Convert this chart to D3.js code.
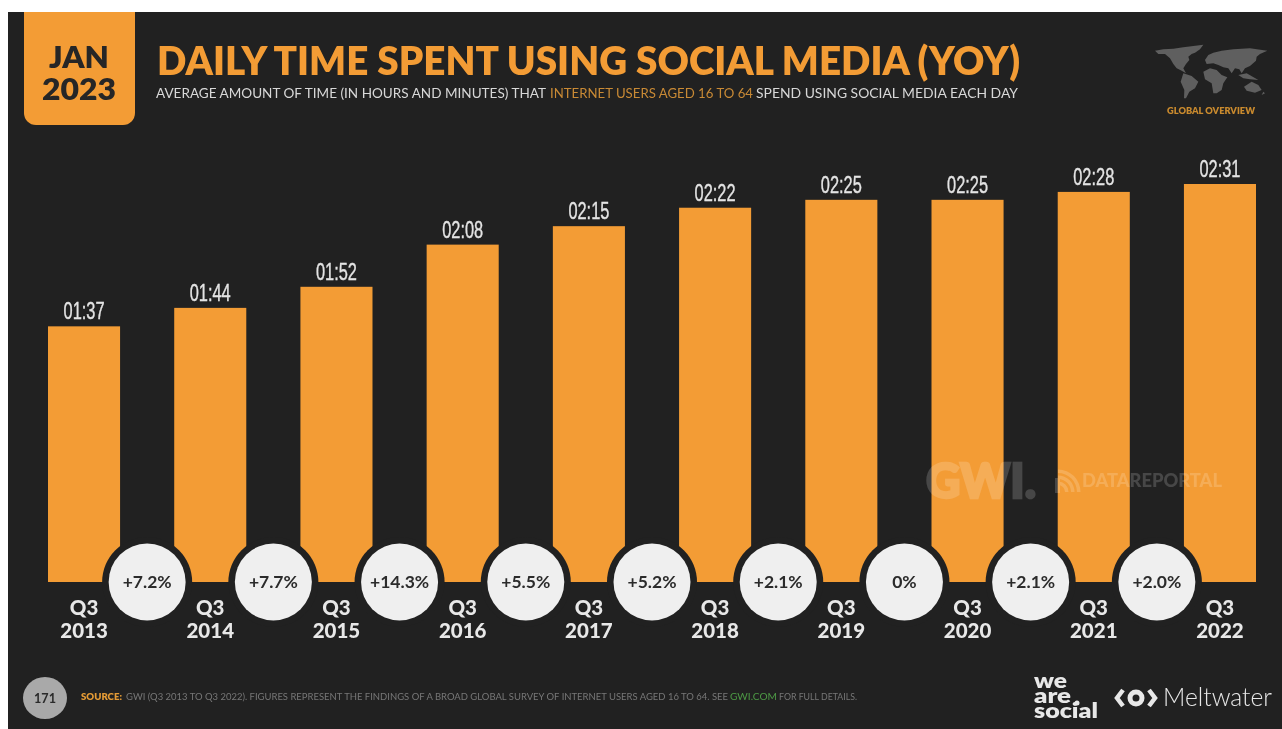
<!DOCTYPE html>
<html>
<head>
<meta charset="utf-8">
<style>
html, body { margin: 0; padding: 0; background: #fff; }
svg { display: block; filter: blur(0.4px); }
.axis path { display: none; }
.axis line { display: none; }
</style>
</head>
<body>
<svg width="1282" height="729"></svg>
<script src="https://d3js.org/d3.v7.min.js"></script>
<script>
// values are minutes per day
var quarters = ["Q3 2013", "Q3 2014", "Q3 2015", "Q3 2016", "Q3 2017", "Q3 2018", "Q3 2019", "Q3 2020", "Q3 2021", "Q3 2022"];
var minutes = [97, 104, 112, 128, 135, 142, 145, 145, 148, 151];
var changes = ["+7.2%", "+7.7%", "+14.3%", "+5.5%", "+5.2%", "+2.1%", "0%", "+2.1%", "+2.0%"];

var orange = "#f39c35", dark = "#212121", head = "Lato, sans-serif";
var svg = d3.select("svg");

function label(x, y, str, size, weight, fill, len, family) {
  var t = svg.append("text")
      .attr("x", x).attr("y", y)
      .attr("font-family", family || head)
      .attr("font-size", size)
      .attr("font-weight", weight)
      .attr("fill", fill)
      .text(str);
  if (len) t.attr("textLength", len).attr("lengthAdjust", "spacingAndGlyphs");
  return t;
}

svg.append("rect").attr("x", 8).attr("y", 12).attr("width", 1274).attr("height", 717).attr("fill", dark);

// chart
var x = d3.scaleBand().domain(quarters).range([48, 1256]).paddingInner(0.429).paddingOuter(0);
var y = d3.scaleLinear().domain([0, 151]).range([582, 184]);

function hhmm(m) {
  return d3.format("02d")(Math.floor(m / 60)) + ":" + d3.format("02d")(m % 60);
}

svg.selectAll(".bar")
  .data(quarters)
  .enter().append("rect")
    .attr("class", "bar")
    .attr("x", function(d) { return x(d); })
    .attr("y", function(d, i) { return y(minutes[i]); })
    .attr("width", x.bandwidth())
    .attr("height", function(d, i) { return y(0) - y(minutes[i]); })
    .attr("fill", orange);

svg.selectAll(".value")
  .data(quarters)
  .enter().append("text")
    .attr("class", "value")
    .attr("x", function(d) { return x(d) + x.bandwidth() / 2; })
    .attr("y", function(d, i) { return y(minutes[i]) - 7; })
    .attr("text-anchor", "middle")
    .attr("font-family", "'Liberation Sans Narrow', sans-serif")
    .attr("font-size", 23)
    .attr("fill", "#e4e4e4")
    .attr("stroke", "#e4e4e4")
    .attr("stroke-width", 0.35)
    .attr("textLength", 41)
    .attr("lengthAdjust", "spacingAndGlyphs")
    .text(function(d, i) { return hhmm(minutes[i]); });

var axis = svg.append("g")
    .attr("class", "axis")
    .attr("transform", "translate(0,582)")
    .call(d3.axisBottom(x).tickSize(0).tickFormat(""));

axis.selectAll(".tick text")
    .attr("y", 0).attr("dy", 0)
    .attr("font-family", head)
    .attr("font-size", 20.5)
    .attr("font-weight", 900)
    .attr("fill", "#e8e8e8")
    .each(function(d) {
      var parts = d.split(" ");
      d3.select(this).append("tspan").attr("x", 0).attr("y", 33).text(parts[0]);
      d3.select(this).append("tspan").attr("x", 0).attr("y", 56).text(parts[1]);
    });

// change bubbles sit halfway between two bars
var bubbles = svg.selectAll(".bubble")
  .data(changes)
  .enter().append("g")
    .attr("class", "bubble")
    .attr("transform", function(d, i) {
      return "translate(" + ((x(quarters[i]) + x(quarters[i + 1]) + x.bandwidth()) / 2) + "," + y(0) + ")";
    });
bubbles.append("circle").attr("r", 45).attr("fill", dark);
bubbles.append("circle").attr("r", 38.5).attr("fill", "#efefef");
bubbles.append("text")
    .attr("text-anchor", "middle")
    .attr("dy", "0.36em")
    .attr("font-family", head)
    .attr("font-size", 17.5)
    .attr("font-weight", 700)
    .attr("fill", "#2b2b2b")
    .text(function(d) { return d; });

// watermark
var wm = svg.append("g").attr("opacity", 0.17).attr("fill", "#fff");
wm.append("text").attr("x", 926).attr("y", 498).attr("font-family", head).attr("font-size", 47).attr("font-weight", 900)
    .attr("stroke", "#fff").attr("stroke-width", 2.5)
    .attr("textLength", 110).attr("lengthAdjust", "spacingAndGlyphs").text("GWI.");
wm.append("text").attr("x", 1082).attr("y", 487).attr("font-family", head).attr("font-size", 19).attr("font-weight", 900)
    .attr("textLength", 140).attr("lengthAdjust", "spacingAndGlyphs").text("DATAREPORTAL");
[7, 13, 19].forEach(function(r) {
  wm.append("path")
      .attr("d", d3.arc()({innerRadius: r, outerRadius: r + 3.5, startAngle: 0, endAngle: Math.PI / 2}))
      .attr("transform", "translate(1058,492)");
});
wm.append("rect").attr("x", 1055).attr("y", 478).attr("width", 5).attr("height", 15);

// header
svg.append("path")
    .attr("d", "M24,12H135V113a12,12 0 0 1 -12,12H36a12,12 0 0 1 -12,-12Z")
    .attr("fill", orange);
label(79, 68, "JAN", 30, 800, "#262626", 60).attr("text-anchor", "middle");
label(79, 100, "2023", 31, 800, "#262626", 74).attr("text-anchor", "middle");

label(157, 75, "DAILY TIME SPENT USING SOCIAL MEDIA (YOY)", 40, 800, orange, 863);
label(156, 98, "AVERAGE AMOUNT OF TIME (IN HOURS AND MINUTES) THAT", 13, 400, "#d8d8d8", 390);
label(550, 98, "INTERNET USERS AGED 16 TO 64", 13, 400, "#c98a35", 203);
label(756, 98, "SPEND USING SOCIAL MEDIA EACH DAY", 13, 400, "#d8d8d8", 262);

// simplified world map, traced in a 3x box
var continents = [
  "M15,32L40,28L70,26L100,22L130,18L160,14L150,28L135,38L125,42L115,50L118,60L108,72L100,85L108,100L95,92L80,85L70,72L60,55L45,42L25,42Z",
  "M100,100L125,108L145,125L135,145L118,155L108,175L102,175L103,150L92,125Z",
  "M160,95L180,85L200,90L215,105L232,112L220,130L215,150L200,160L190,160L185,130L165,118Z",
  "M165,60L175,45L190,38L215,32L250,28L300,25L352,32L330,42L320,50L318,62L300,78L285,85L275,100L268,88L255,85L245,100L235,85L220,82L205,75L190,70L170,72Z",
  "M265,105L290,100L325,120L300,118L280,115Z",
  "M282,140L305,125L325,135L335,150L315,158L290,152Z",
  "M340,155L345,160L335,165Z"
];
svg.append("g")
    .attr("transform", "translate(1150,40) scale(0.3333)")
    .selectAll("path")
  .data(continents)
  .enter().append("path")
    .attr("d", function(d) { return d; })
    .attr("fill", "#5f5f5f");
label(1167, 114, "GLOBAL OVERVIEW", 9, 800, "#c98a2e", 88);

// footer
svg.append("ellipse").attr("cx", 45).attr("cy", 698).attr("rx", 22).attr("ry", 21).attr("fill", "#a9a9a9");
label(45, 703, "171", 14, 700, "#2a2a2a", 22).attr("text-anchor", "middle");
label(81, 700, "SOURCE:", 9, 800, "#e39a35", 41);
label(126, 700, "GWI (Q3 2013 TO Q3 2022). FIGURES REPRESENT THE FINDINGS OF A BROAD GLOBAL SURVEY OF INTERNET USERS AGED 16 TO 64. SEE", 9, 400, "#777", 602);
label(730, 700, "GWI.COM", 9, 400, "#4d9a45", 47);
label(779, 700, "FOR FULL DETAILS.", 9, 400, "#777", 78);

// logos
label(1034, 688, "we", 21, 800, "#e8e8e8", 33);
label(1034, 703, "are", 21, 800, "#e8e8e8", 37);
label(1034, 718, "social", 21, 800, "#e8e8e8", 64);
svg.append("circle").attr("cx", 1077).attr("cy", 703).attr("r", 2.5).attr("fill", "#e8e8e8");

var eye = svg.append("g").attr("transform", "translate(1136,698)").attr("fill", "none").attr("stroke", "#e8e8e8");
eye.append("circle").attr("r", 6).attr("stroke-width", 5);
eye.append("path").attr("d", "M-13,-8L-19,0L-13,8").attr("stroke-width", 4.5);
eye.append("path").attr("d", "M13,-8L19,0L13,8").attr("stroke-width", 4.5);
label(1163, 706, "Meltwater", 26, 300, "#e8e8e8", 109);
</script>
</body>
</html>
